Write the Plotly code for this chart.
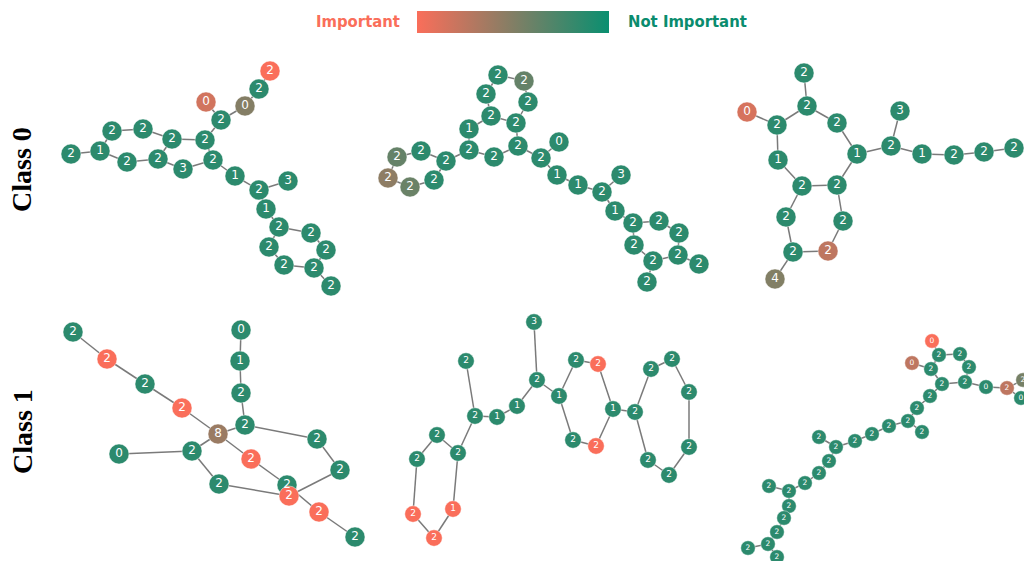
import plotly.graph_objects as go

# ---- colour scale shared by nodes and the legend bar (0 = important, 1 = not important)
IMPORTANT_COLOR = "rgb(250,110,90)"
NOT_IMPORTANT_COLOR = "rgb(10,143,112)"
COLORSCALE = [[0.0, IMPORTANT_COLOR], [1.0, NOT_IMPORTANT_COLOR]]

ROW_TITLES = ["Class 0", "Class 1"]

# ---- molecule 1 (class 0)
m1_labels = ["2", "2", "0", "0", "2", "2", "2", "2", "2", "1", "2", "2", "2",
             "3", "2", "1", "2", "3", "1", "2", "2", "2", "2", "2", "2", "2"]
m1_score = [0.0, 0.86, 0.49, 0.17, 0.86, 0.86, 0.86, 0.86, 0.86, 0.86, 0.86, 0.86, 0.86,
            0.86, 0.86, 0.86, 0.86, 0.86, 0.86, 0.86, 0.86, 0.86, 0.86, 0.86, 0.86, 0.86]
m1_x = [270, 259, 245, 206, 221, 205, 172, 143, 112, 100, 71, 127, 158,
        183, 213, 235, 259, 288, 266, 279, 311, 326, 314, 284, 269, 331]
m1_y = [71, 89, 106, 102, 120, 140, 139, 129, 131, 151, 154, 162, 159,
        169, 160, 176, 190, 181, 209, 227, 233, 250, 268, 265, 247, 286]
m1_edges = [(0, 1), (1, 2), (2, 4), (3, 4), (4, 5), (5, 6), (5, 14), (6, 7), (6, 12),
            (7, 8), (8, 9), (9, 10), (9, 11), (11, 12), (12, 13), (13, 14), (14, 15),
            (15, 16), (16, 17), (16, 18), (18, 19), (19, 20), (19, 24), (20, 21),
            (21, 22), (22, 23), (23, 24), (22, 25)]

# ---- molecule 2 (class 0)
m2_labels = ["2", "2", "2", "2", "2", "2", "1", "2", "2", "2", "2", "2", "2", "2", "2", "2",
             "2", "0", "1", "1", "2", "3", "1", "2", "2", "2", "2", "2", "2", "2", "2"]
m2_score = [0.86, 0.62, 0.86, 0.86, 0.86, 0.86, 0.86, 0.86, 0.86, 0.86, 0.86, 0.86, 0.62,
            0.45, 0.6, 0.86, 0.86, 0.86, 0.86, 0.86, 0.86, 0.86, 0.86, 0.86, 0.86, 0.86,
            0.86, 0.86, 0.86, 0.86, 0.86]
m2_x = [498, 524, 486, 528, 491, 516, 469, 469, 494, 518, 446, 421, 397, 388, 410, 434,
        541, 559, 557, 578, 602, 621, 615, 633, 659, 679, 678, 653, 634, 699, 647]
m2_y = [75, 81, 94, 102, 116, 123, 129, 150, 157, 146, 161, 151, 157, 178, 187, 180,
        158, 142, 175, 185, 192, 175, 211, 223, 221, 233, 255, 261, 245, 264, 282]
m2_edges = [(0, 1), (0, 2), (1, 3), (2, 4), (3, 5), (4, 5), (4, 6), (6, 7), (7, 8),
            (8, 9), (5, 9), (7, 10), (10, 11), (11, 12), (12, 13), (13, 14), (14, 15),
            (15, 10), (9, 16), (16, 17), (16, 18), (18, 19), (19, 20), (20, 21),
            (20, 22), (22, 23), (23, 24), (24, 25), (25, 26), (26, 27), (27, 28),
            (28, 23), (26, 29), (27, 30)]

# ---- molecule 3 (class 0)
m3_labels = ["2", "2", "0", "2", "2", "1", "1", "2", "3", "1",
             "2", "2", "2", "2", "2", "2", "2", "2", "2", "4"]
m3_score = [0.86, 0.86, 0.15, 0.86, 0.86, 0.86, 0.86, 0.86, 0.86, 0.86,
            0.86, 0.86, 0.86, 0.86, 0.86, 0.86, 0.86, 0.86, 0.25, 0.5]
m3_x = [804, 807, 747, 777, 837, 778, 857, 891, 900, 922,
        954, 984, 1014, 802, 837, 786, 843, 793, 828, 775]
m3_y = [73, 106, 112, 125, 123, 160, 154, 146, 111, 154,
        155, 152, 148, 186, 185, 217, 221, 252, 251, 279]
m3_edges = [(0, 1), (1, 3), (1, 4), (2, 3), (3, 5), (5, 13), (13, 14), (14, 6), (4, 6),
            (6, 7), (7, 8), (7, 9), (9, 10), (10, 11), (11, 12), (13, 15), (15, 17),
            (17, 18), (18, 16), (16, 14), (17, 19)]

# ---- molecule 4 (class 1)
m4_labels = ["2", "2", "2", "2", "8", "0", "1", "2", "2", "2",
             "2", "0", "2", "2", "2", "2", "2", "2", "2"]
m4_score = [0.86, 0.0, 0.86, 0.0, 0.4, 0.86, 0.86, 0.86, 0.86, 0.86,
            0.86, 0.86, 0.86, 0.0, 0.86, 0.86, 0.0, 0.0, 0.86]
m4_x = [73, 107, 145, 182, 218, 241, 240, 241, 245, 317,
        340, 119, 192, 251, 219, 287, 289, 319, 355]
m4_y = [332, 359, 384, 408, 434, 330, 361, 393, 425, 439,
        470, 454, 451, 459, 484, 485, 496, 512, 537]
m4_edges = [(0, 1), (1, 2), (2, 3), (3, 4), (4, 8), (4, 12), (4, 13), (5, 6), (6, 7),
            (7, 8), (8, 9), (9, 10), (10, 16), (11, 12), (12, 14), (14, 16), (13, 15),
            (15, 17), (17, 18)]

# ---- molecule 5 (class 1)
m5_labels = ["3", "2", "2", "1", "1", "2", "1", "2", "2", "1", "2", "2", "2",
             "2", "2", "2", "2", "2", "2", "2", "2", "2", "1", "2", "2"]
m5_score = [0.86, 0.86, 0.86, 0.86, 0.86, 0.86, 0.86, 0.86, 0.0, 0.86, 0.0, 0.86, 0.86,
            0.86, 0.86, 0.86, 0.86, 0.86, 0.86, 0.86, 0.86, 0.86, 0.0, 0.0, 0.0]
m5_x = [534, 466, 537, 517, 497, 475, 559, 576, 598, 613, 596, 573, 635,
        651, 672, 689, 689, 669, 648, 437, 458, 417, 453, 413, 434]
m5_y = [322, 361, 380, 406, 417, 416, 396, 360, 364, 409, 446, 440, 412,
        369, 359, 392, 447, 475, 460, 435, 453, 459, 509, 514, 538]
m5_edges = [(0, 2), (2, 3), (3, 4), (4, 5), (1, 5), (2, 6), (6, 7), (7, 8), (8, 9),
            (6, 11), (11, 10), (10, 9), (9, 12), (12, 13), (13, 14), (14, 15), (15, 16),
            (16, 17), (17, 18), (18, 12), (5, 20), (20, 19), (19, 21), (21, 23),
            (23, 24), (24, 22), (22, 20)]

# ---- molecule 6 (class 1)
m6_labels = ["0", "2", "2", "0", "2", "2", "2", "2", "0", "2", "2", "0", "2", "2", "2", "2",
             "2", "2", "2", "2", "2", "2", "2", "2", "2", "2", "2", "2", "2", "2", "2", "2"]
m6_score = [0.0, 0.86, 0.86, 0.25, 0.86, 0.86, 0.86, 0.86, 0.86, 0.25, 0.55, 0.86,
            0.86, 0.86, 0.86, 0.86, 0.86, 0.86, 0.86, 0.86, 0.86, 0.86, 0.86, 0.86,
            0.86, 0.86, 0.86, 0.86, 0.86, 0.86, 0.86, 0.86]
m6_x = [932, 939, 960, 912, 931, 969, 942, 965, 986, 1007, 1023, 1021, 930, 917, 908, 922,
        889, 872, 855, 836, 819, 829, 819, 805, 789, 769, 789, 784, 777, 768, 748, 777]
m6_y = [341, 355, 354, 363, 369, 367, 384, 382, 387, 388, 380, 398, 396, 408, 421, 432,
        426, 434, 441, 447, 437, 461, 473, 483, 491, 486, 506, 518, 532, 544, 548, 557]
m6_edges = [(0, 1), (1, 2), (2, 5), (5, 7), (7, 6), (6, 4), (4, 1), (3, 4), (7, 8),
            (8, 9), (9, 10), (9, 11), (6, 12), (12, 13), (13, 14), (14, 15), (14, 16),
            (16, 17), (17, 18), (18, 19), (19, 20), (19, 21), (21, 22), (22, 23),
            (23, 24), (24, 25), (24, 26), (26, 27), (27, 28), (28, 29), (29, 30), (29, 31)]

# panel boxes on the page (left, top, right, bottom) and node/label sizes
W, H = 1024, 561
panels = [
    dict(labels=m1_labels, score=m1_score, x=m1_x, y=m1_y, edges=m1_edges,
         box=(45, 55, 365, 300), size=20, font=12),
    dict(labels=m2_labels, score=m2_score, x=m2_x, y=m2_y, edges=m2_edges,
         box=(375, 55, 725, 300), size=20, font=12),
    dict(labels=m3_labels, score=m3_score, x=m3_x, y=m3_y, edges=m3_edges,
         box=(730, 55, 1024, 300), size=20, font=12),
    dict(labels=m4_labels, score=m4_score, x=m4_x, y=m4_y, edges=m4_edges,
         box=(45, 310, 385, 561), size=20, font=12),
    dict(labels=m5_labels, score=m5_score, x=m5_x, y=m5_y, edges=m5_edges,
         box=(390, 310, 725, 561), size=16.5, font=9),
    dict(labels=m6_labels, score=m6_score, x=m6_x, y=m6_y, edges=m6_edges,
         box=(730, 310, 1024, 561), size=14.5, font=7.5),
]

fig = go.Figure()
layout_axes = {}

for k, p in enumerate(panels, start=1):
    xa = "x" if k == 1 else f"x{k}"
    ya = "y" if k == 1 else f"y{k}"
    ex, ey = [], []
    for a, b in p["edges"]:
        ex += [p["x"][a], p["x"][b], None]
        ey += [p["y"][a], p["y"][b], None]
    fig.add_trace(go.Scatter(
        x=ex, y=ey, mode="lines", xaxis=xa, yaxis=ya,
        line=dict(color="#7a7a7a", width=1.5), hoverinfo="skip", showlegend=False))

    marker = dict(
        size=p["size"], color=p["score"], colorscale=COLORSCALE, cmin=0, cmax=1,
        line=dict(color="rgba(255,255,255,0.55)", width=0.8), opacity=1)
    if k == 1:
        marker.update(showscale=True, colorbar=dict(
            orientation="h", x=513 / W, xanchor="center", y=1 - 11 / H, yanchor="top",
            len=192, lenmode="pixels", thickness=22, thicknessmode="pixels",
            outlinewidth=0, showticklabels=False, ticks="", xpad=0, ypad=0))
    else:
        marker.update(showscale=False)
    fig.add_trace(go.Scatter(
        x=p["x"], y=p["y"], mode="markers+text", text=p["labels"],
        textposition="middle center", xaxis=xa, yaxis=ya,
        textfont=dict(family="DejaVu Sans", size=p["font"], color="white"),
        marker=marker, hoverinfo="skip", showlegend=False))

    x0, y0, x1, y1 = p["box"]
    ax_common = dict(visible=False, showgrid=False, zeroline=False, fixedrange=True)
    layout_axes["xaxis" if k == 1 else f"xaxis{k}"] = dict(
        domain=[x0 / W, x1 / W], range=[x0, x1], anchor=ya, **ax_common)
    layout_axes["yaxis" if k == 1 else f"yaxis{k}"] = dict(
        domain=[1 - y1 / H, 1 - y0 / H], range=[y1, y0], anchor=xa, **ax_common)

fig.update_layout(**layout_axes)

annotations = [
    dict(text="Important", x=402 / W, y=1 - 21 / H, xanchor="right", yanchor="middle",
         font=dict(family="DejaVu Sans Condensed, DejaVu Sans", size=16.5,
                   color="#FA6E5A", weight="bold")),
    dict(text="Not Important", x=626 / W, y=1 - 21 / H, xanchor="left", yanchor="middle",
         font=dict(family="DejaVu Sans Condensed, DejaVu Sans", size=16.5,
                   color="#0A8C6E", weight="bold")),
]
for title, yc in zip(ROW_TITLES, [170, 432]):
    annotations.append(dict(
        text=title, x=22 / W, y=1 - yc / H, xanchor="center", yanchor="middle",
        textangle=-90,
        font=dict(family="Liberation Serif, Times New Roman, serif", size=28,
                  color="black", weight="bold")))
for a in annotations:
    a.update(xref="paper", yref="paper", showarrow=False)

fig.update_layout(
    width=W, height=H, margin=dict(l=0, r=0, t=0, b=0),
    paper_bgcolor="white", plot_bgcolor="white",
    annotations=annotations)

fig.write_html("out.html", config={"displayModeBar": False})
